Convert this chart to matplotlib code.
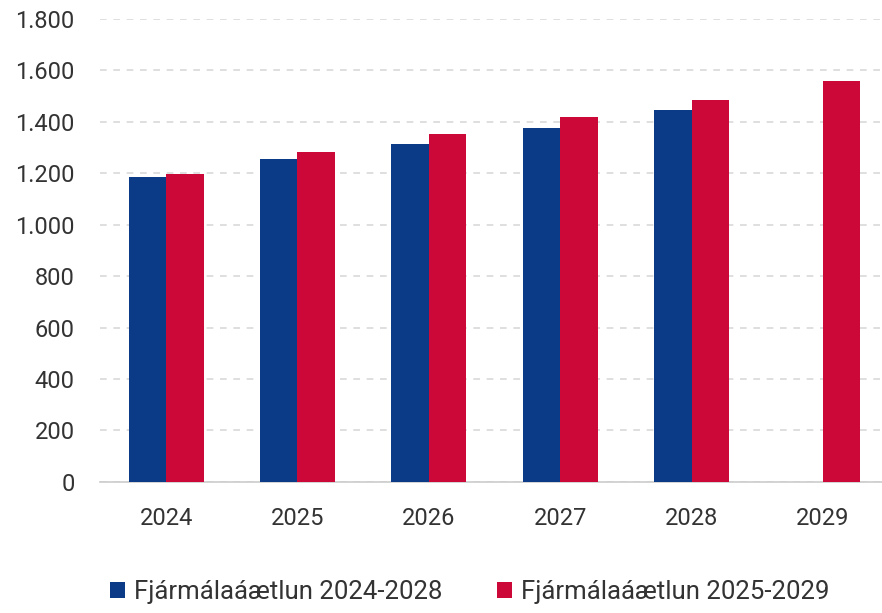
import matplotlib
matplotlib.use('Agg')
import matplotlib.pyplot as plt
import numpy as np
from matplotlib.ticker import FuncFormatter

plt.rcParams['font.family'] = ['Roboto', 'DejaVu Sans']

years = ['2024', '2025', '2026', '2027', '2028', '2029']
plan_2024_2028 = [1185, 1256, 1313, 1375, 1447, np.nan]
plan_2025_2029 = [1197, 1284, 1353, 1417, 1486, 1560]
labels = ['Fjármálaáætlun 2024-2028', 'Fjármálaáætlun 2025-2029']
colors = ['#0B3A86', '#CC0839']

fig = plt.figure(figsize=(8.82, 6.13), dpi=100)
ax = fig.add_axes([0.113, 0.214, 0.887, 0.755])

x = np.arange(len(years))
w = 0.286
ax.bar(x - w/2, plan_2024_2028, w, color=colors[0], label=labels[0], zorder=3)
ax.bar(x + w/2, plan_2025_2029, w, color=colors[1], label=labels[1], zorder=3)

ax.set_ylim(0, 1800)
ax.set_xlim(-0.506, 5.45)
ax.set_yticks(np.arange(0, 1801, 200))
ax.yaxis.set_major_formatter(FuncFormatter(lambda v, p: '{:,.0f}'.format(v).replace(',', '.')))
ax.set_xticks(x)
ax.set_xticklabels(years)
ax.grid(axis='y', color='#d9d9d9', ls=(0, (4, 4)), lw=1.2, zorder=0)
for s in ['top', 'right', 'left']:
    ax.spines[s].set_visible(False)
ax.spines['bottom'].set_color('#cccccc')
ax.spines['bottom'].set_linewidth(1.2)
ax.tick_params(length=0, labelsize=17, colors='#333333')
ax.tick_params(axis='x', pad=18)
ax.tick_params(axis='y', pad=18)

fig.legend(loc='center left', bbox_to_anchor=(110/882, 1 - 592/613), ncol=2, frameon=False,
           fontsize=18.5, handlelength=0.6, handleheight=0.6, handletextpad=0.35,
           columnspacing=2.1, borderpad=0, borderaxespad=0, labelcolor='#333333')

fig.savefig('out.png', dpi=100)
